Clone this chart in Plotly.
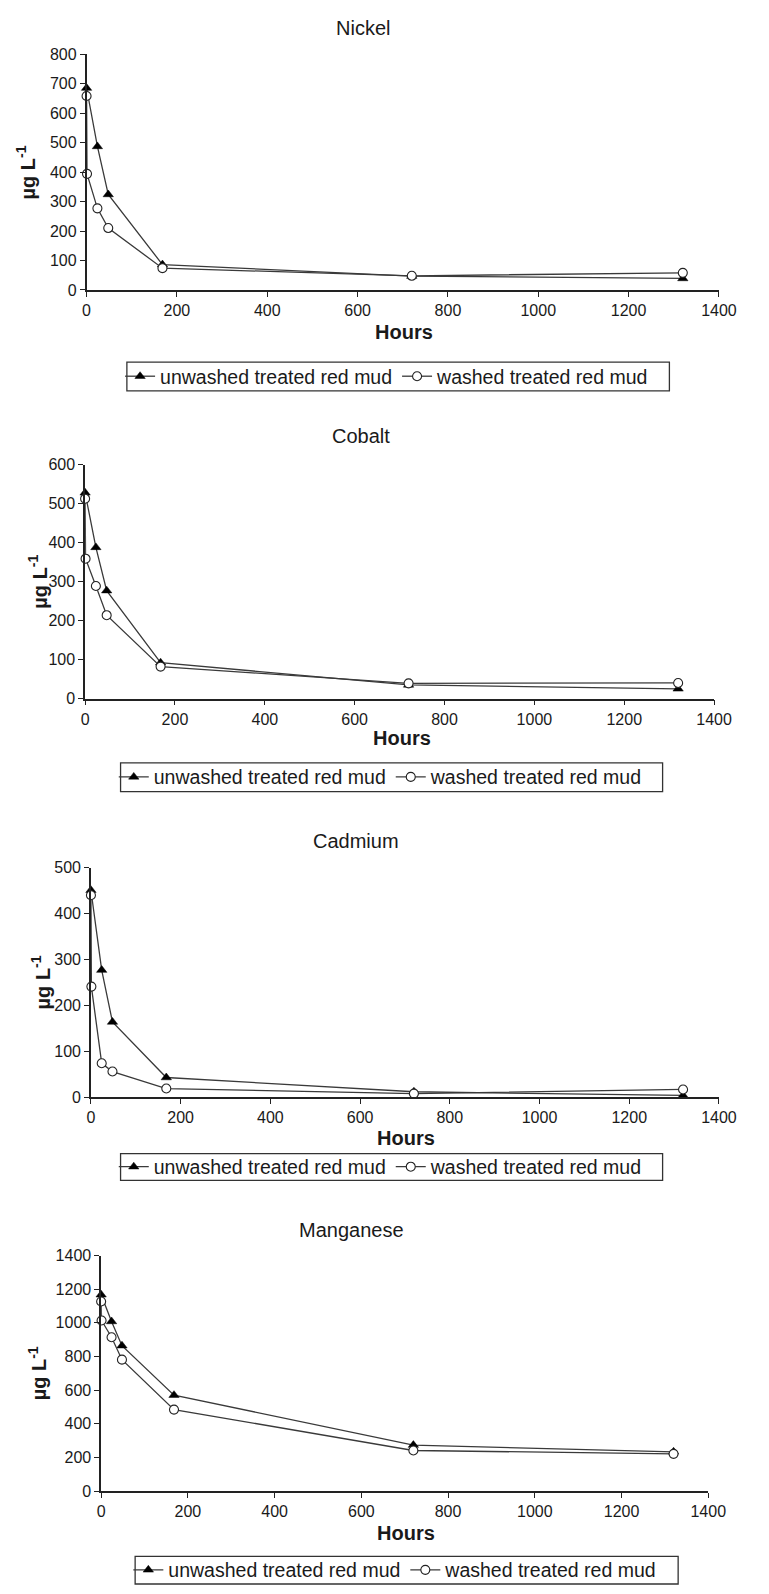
import plotly.graph_objects as go

W, H = 769, 1594

# ---------------- data ----------------
panels = ["Nickel", "Cobalt", "Cadmium", "Manganese"]
hours_unwashed = [0, 24, 48, 168, 720, 1320]
hours_washed = [0, 1, 24, 48, 168, 720, 1320]

nickel_unwashed = [685, 487, 324, 86, 47, 39]
nickel_washed = [658, 394, 277, 210, 74, 48, 58]

cobalt_unwashed = [528, 388, 277, 92, 35, 25]
cobalt_washed = [513, 359, 289, 214, 82, 39, 40]

cadmium_unwashed = [451, 277, 164, 43, 12, 4]
cadmium_washed = [440, 241, 74, 56, 19, 8, 17]

manganese_unwashed = [1167, 1008, 864, 570, 273, 233]
manganese_washed = [1127, 1014, 914, 781, 484, 241, 221]

y_max = [800, 600, 500, 1400]
y_dtick = [100, 100, 100, 200]
x_ticks = [0, 200, 400, 600, 800, 1000, 1200, 1400]

series_unwashed = [nickel_unwashed, cobalt_unwashed, cadmium_unwashed, manganese_unwashed]
series_washed = [nickel_washed, cobalt_washed, cadmium_washed, manganese_washed]

# ---------------- layout geometry (pixels) ----------------
plot_x = [(85, 736), (83.5, 731), (89.5, 736), (100, 725)]
plot_y = [(46.7, 285), (461.7, 698), (869, 1101), (1261, 1499)]
title_pos = [(370, 20), (367, 433), (362, 842), (358, 1235)]
hours_pos = [(412, 327), (410, 738), (414, 1142), (414, 1541)]
ytitle_x = [22, 35, 38, 34]
legend_box = [(126.5, 358, 685, 387), (120, 763, 678, 792),
              (120, 1158, 678, 1185), (135, 1565, 694, 1593)]

FONT = "Liberation Sans, Arial, Helvetica, sans-serif"
LINE = "#3a3a3a"

fig = go.Figure()
annotations = []
shapes = []
layout = dict(
    width=W, height=H,
    margin=dict(l=0, r=0, t=0, b=0),
    paper_bgcolor="white", plot_bgcolor="white",
    font=dict(family=FONT, color="#1a1a1a"),
    showlegend=True,
)

for i, name in enumerate(panels):
    k = "" if i == 0 else str(i + 1)
    xa, ya = "x" + k, "y" + k
    lg = "legend" + k
    fig.add_trace(go.Scatter(
        x=hours_unwashed, y=series_unwashed[i], xaxis=xa, yaxis=ya,
        mode="lines+markers", name="unwashed treated red mud",
        line=dict(color=LINE, width=1.3),
        marker=dict(symbol="triangle-up", size=9, color="black",
                    line=dict(color="black", width=0.5)),
        cliponaxis=False, legend=lg,
    ))
    fig.add_trace(go.Scatter(
        x=hours_washed, y=series_washed[i], xaxis=xa, yaxis=ya,
        mode="lines+markers", name="washed treated red mud",
        line=dict(color=LINE, width=1.3),
        marker=dict(symbol="circle", size=9, color="white",
                    line=dict(color="#222", width=1.1)),
        cliponaxis=False, legend=lg,
    ))
    x0, x1 = plot_x[i]
    y0, y1 = plot_y[i]
    layout["xaxis" + k] = dict(
        domain=[x0 / W, x1 / W], anchor=ya, range=[0, 1400],
        tickmode="array", tickvals=x_ticks, ticks="outside", ticklen=5,
        tickcolor="#222", tickwidth=1.2,
        showline=True, linecolor="#222", linewidth=1.5,
        showgrid=False, zeroline=False,
        tickfont=dict(size=16, family=FONT, color="#1a1a1a"),
    )
    layout["yaxis" + k] = dict(
        domain=[1 - y1 / H, 1 - y0 / H], anchor=xa, range=[0, y_max[i]],
        dtick=y_dtick[i], tick0=0, ticks="outside", ticklen=5,
        tickcolor="#222", tickwidth=1.2,
        showline=True, linecolor="#222", linewidth=1.5,
        showgrid=False, zeroline=False,
        tickfont=dict(size=16, family=FONT, color="#1a1a1a"),
    )
    tx, ty = title_pos[i]
    annotations.append(dict(text=name, x=tx / W, y=1 - ty / H, xref="paper", yref="paper",
                            xanchor="center", yanchor="middle", showarrow=False,
                            font=dict(size=20, family=FONT, color="#1a1a1a")))
    hx, hy = hours_pos[i]
    annotations.append(dict(text="<b>Hours</b>", x=hx / W, y=1 - hy / H, xref="paper", yref="paper",
                            xanchor="center", yanchor="middle", showarrow=False,
                            font=dict(size=20, family=FONT, color="#1a1a1a")))
    annotations.append(dict(text="<b>µg L<sup>-1</sup></b>", x=ytitle_x[i] / W,
                            y=1 - (y0 + y1) / 2 / H, xref="paper", yref="paper",
                            xanchor="center", yanchor="middle", showarrow=False, textangle=-90,
                            font=dict(size=20, family=FONT, color="#1a1a1a")))
    bx0, by0, bx1, by1 = legend_box[i]
    shapes.append(dict(type="rect", xref="paper", yref="paper",
                       x0=bx0 / W, x1=bx1 / W, y0=1 - by1 / H, y1=1 - by0 / H,
                       line=dict(color="#333", width=1.3), fillcolor="rgba(0,0,0,0)",
                       layer="above"))
    layout[lg] = dict(
        orientation="h", x=(bx0 - 7) / W, y=1 - (by0 + by1) / 2 / H,
        xanchor="left", yanchor="middle",
        xref="paper", yref="paper",
        borderwidth=0, bgcolor="rgba(0,0,0,0)",
        font=dict(size=19.5, family=FONT, color="#1a1a1a"),
        itemwidth=30, tracegroupgap=0,
    )

layout["annotations"] = annotations
layout["shapes"] = shapes
fig.update_layout(**layout)
fig.write_html("out.html")
